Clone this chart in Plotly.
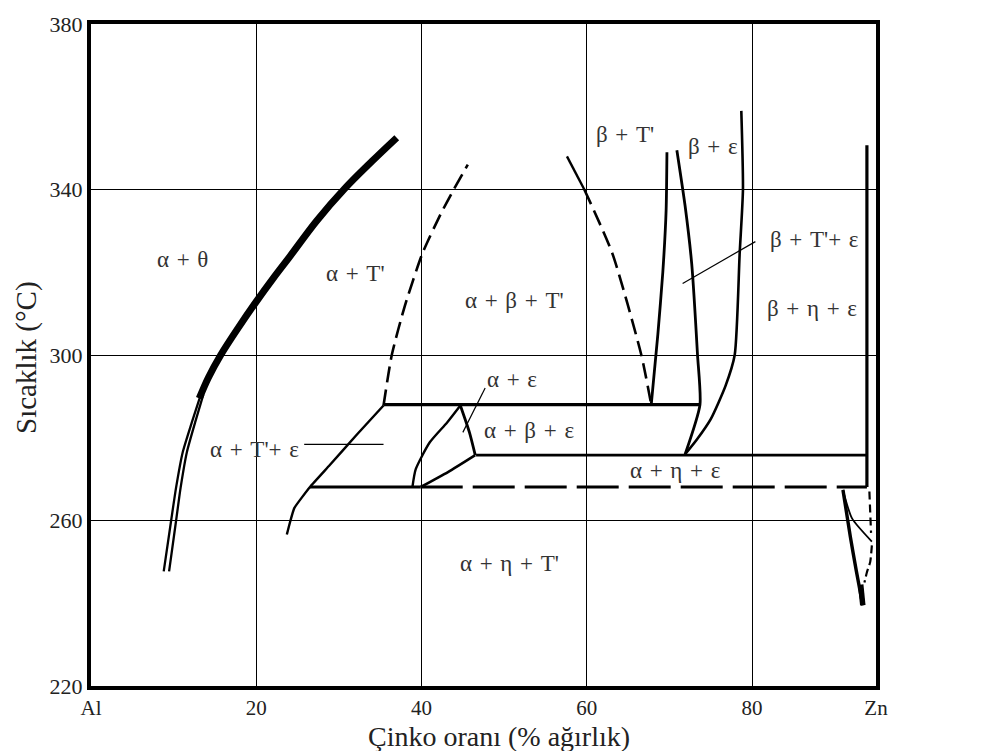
import plotly.graph_objects as go

# ---------------- data (wt% Zn, temperature °C) ----------------
solvus_thick_x = [37.0, 34.0, 30.7, 27.3, 24.1, 22.0, 20.0, 17.8, 15.7, 14.2, 13.1]
solvus_thick_y = [352.5, 346.8, 340.2, 332.4, 323.9, 318.4, 312.9, 306.5, 300.0, 294.5, 289.5]
solvus_a_x = [13.3, 12.2, 11.1, 10.3, 9.7, 8.8]
solvus_a_y = [290.5, 283.7, 276.5, 268.0, 260.0, 247.7]
solvus_b_x = [13.6, 12.6, 11.6, 10.85, 10.3, 9.45]
solvus_b_y = [290.5, 283.7, 276.5, 268.0, 260.0, 247.7]

aT_dash_x = [35.4, 36.4, 38.0, 40.1, 42.3, 43.9, 45.6]
aT_dash_y = [287.8, 300.0, 312.0, 324.5, 334.0, 340.0, 346.0]

v_left_solid_x = [57.6, 59.7]
v_left_solid_y = [348.0, 340.0]
v_left_dash_x = [59.7, 63.1, 66.6, 67.8]
v_left_dash_y = [340.0, 324.5, 300.0, 288.0]
v_right_x = [67.8, 68.6, 69.2, 69.6, 69.7]
v_right_y = [288.0, 305.0, 320.0, 335.0, 349.0]

be_left_x = [70.9, 71.9, 72.7, 73.4, 73.7, 71.9]
be_left_y = [349.5, 336.0, 322.0, 300.0, 288.0, 276.0]
be_right_x = [78.7, 78.9, 78.5, 77.9, 76.8, 75.0, 73.3, 71.9]
be_right_y = [359.0, 340.0, 324.5, 300.0, 292.6, 284.5, 279.5, 276.0]

zn_vert_x = [93.9, 93.9]
zn_vert_y = [350.7, 268.1]

iso288_x = [35.4, 73.7]
iso288_y = [288.0, 288.0]
iso276_x = [46.6, 93.9]
iso276_y = [275.8, 275.8]
iso268_solid_x = [26.5, 39.9]
iso268_solid_y = [268.1, 268.1]
iso268_dash_x = [39.9, 93.9]
iso268_dash_y = [268.1, 268.1]

aTe_left_x = [23.7, 24.1, 24.6, 26.5, 28.9, 32.1, 35.4]
aTe_left_y = [256.6, 259.7, 263.0, 268.1, 273.4, 280.6, 287.8]

ae_left_x = [38.9, 39.3, 41.0, 43.1, 44.7]
ae_left_y = [268.1, 272.4, 278.9, 283.7, 287.8]
ae_right_x = [44.7, 45.8, 46.5]
ae_right_y = [287.8, 281.3, 275.8]
ae_low_x = [39.9, 43.2, 46.5]
ae_low_y = [268.1, 271.7, 275.8]

zn_thick_x = [91.0, 91.9, 92.6, 93.4]
zn_thick_y = [267.4, 256.0, 248.0, 239.5]
zn_foot_x = [93.15, 93.4]
zn_foot_y = [244.5, 239.5]
zn_thin_x = [91.0, 92.1, 94.5]
zn_thin_y = [267.4, 260.5, 254.9]
zn_dash1_x = [94.2, 94.4]
zn_dash1_y = [267.0, 257.0]
zn_dash2_x = [94.5, 94.3, 93.9, 93.6]
zn_dash2_y = [254.0, 250.0, 247.5, 245.0]

leader_ae_x = [47.7, 45.0]
leader_ae_y = [292.0, 281.3]
leader_aTe_x = [25.8, 35.4]
leader_aTe_y = [278.4, 278.4]
leader_bTe_x = [80.4, 71.6]
leader_bTe_y = [327.4, 317.3]

labels = ["α + θ", "α + T'", "α + β + T'", "β + T'", "β + ε", "β + T'+ ε",
          "β + η + ε", "α + ε", "α + β + ε", "α + T'+ ε", "α + η + ε",
          "η + ε", "-η + T' + ε", "α + η + T'"]
label_x = [11.1, 32.0, 51.2, 64.6, 75.3, 87.5, 87.3, 50.9, 53.0, 19.8, 70.7,
           99.4, 102.0, 50.6]
label_y = [323.2, 319.6, 313.2, 353.2, 350.3, 328.0, 311.3, 294.0, 281.8,
           277.2, 272.2, 264.6, 253.1, 249.5]

x_tickvals = [0, 20, 40, 60, 80, 95]
x_ticktext = ["Al", "20", "40", "60", "80", "Zn"]
y_tickvals = [220, 260, 300, 340, 380]

# ---------------- figure ----------------
fig = go.Figure()


def add(xs, ys, width=2.6, dash="solid", smooth=0.6):
    fig.add_trace(go.Scatter(x=xs, y=ys, mode="lines", showlegend=False,
                             hoverinfo="skip", cliponaxis=False,
                             line=dict(color="black", width=width, dash=dash,
                                       shape="spline", smoothing=smooth)))


add(solvus_thick_x, solvus_thick_y, width=7, smooth=1.0)
add(solvus_a_x, solvus_a_y, width=2.3)
add(solvus_b_x, solvus_b_y, width=2.3)
add(aT_dash_x, aT_dash_y, width=2.6, dash="16px,7px")
add(v_left_solid_x, v_left_solid_y, width=2.4)
add(v_left_dash_x, v_left_dash_y, width=2.6, dash="16px,7px")
add(v_right_x, v_right_y, width=2.8)
add(be_left_x, be_left_y, width=2.8)
add(be_right_x, be_right_y, width=2.6)
add(zn_vert_x, zn_vert_y, width=3.2)
add(iso288_x, iso288_y, width=3.2)
add(iso276_x, iso276_y, width=2.8)
add(iso268_solid_x, iso268_solid_y, width=2.8)
add(iso268_dash_x, iso268_dash_y, width=3, dash="42px,10px")
add(aTe_left_x, aTe_left_y, width=2.4, smooth=0.4)
add(ae_left_x, ae_left_y, width=2.4)
add(ae_right_x, ae_right_y, width=2.8)
add(ae_low_x, ae_low_y, width=2.6)
add(zn_thick_x, zn_thick_y, width=3.4)
add(zn_foot_x, zn_foot_y, width=5.5)
add(zn_thin_x, zn_thin_y, width=1.8)
add(zn_dash1_x, zn_dash1_y, width=2.2, dash="8px,5px")
add(zn_dash2_x, zn_dash2_y, width=2.2, dash="8px,4px")
add(leader_ae_x, leader_ae_y, width=1.2)
add(leader_aTe_x, leader_aTe_y, width=1.2)
add(leader_bTe_x, leader_bTe_y, width=1.2)

S = "\u2004"  # three-per-em space, matches the wide spacing around "+"
for t, lx, ly in zip(labels, label_x, label_y):
    fig.add_annotation(x=lx, y=ly, text=t.replace(" ", S), showarrow=False,
                       font=dict(family="Liberation Serif", size=23, color="#333"))

# axis titles
fig.add_annotation(xref="paper", yref="paper", x=0.52, y=-0.077,
                   text="Çinko oranı (% ağırlık)", showarrow=False,
                   xanchor="center", yanchor="middle",
                   font=dict(family="Liberation Serif", size=28, color="#222"))
fig.add_annotation(xref="paper", yref="paper", x=-0.0815, y=0.4955,
                   text="Sıcaklık (°C)", showarrow=False, textangle=-90,
                   xanchor="center", yanchor="middle",
                   font=dict(family="Liberation Serif", size=29, color="#222"))

axis_font = dict(family="Liberation Serif", size=21, color="#222")
fig.update_xaxes(range=[0, 95], tickvals=x_tickvals, ticktext=x_ticktext,
                 showgrid=True, gridcolor="black", gridwidth=1.2,
                 showline=True, linecolor="black", linewidth=4, mirror=True,
                 zeroline=False, ticks="", ticklen=0, tickfont=axis_font)
fig.update_yaxes(range=[220, 380], tickvals=y_tickvals,
                 showgrid=True, gridcolor="black", gridwidth=1.2,
                 showline=True, linecolor="black", linewidth=4, mirror=True,
                 zeroline=False, ticks="", ticklen=0,
                 tickfont=dict(family="Liberation Serif", size=22, color="#222"))

fig.update_layout(width=992, height=751, plot_bgcolor="white",
                  paper_bgcolor="white",
                  margin=dict(l=91, r=116, t=18, b=65))

fig.write_html("out.html")
